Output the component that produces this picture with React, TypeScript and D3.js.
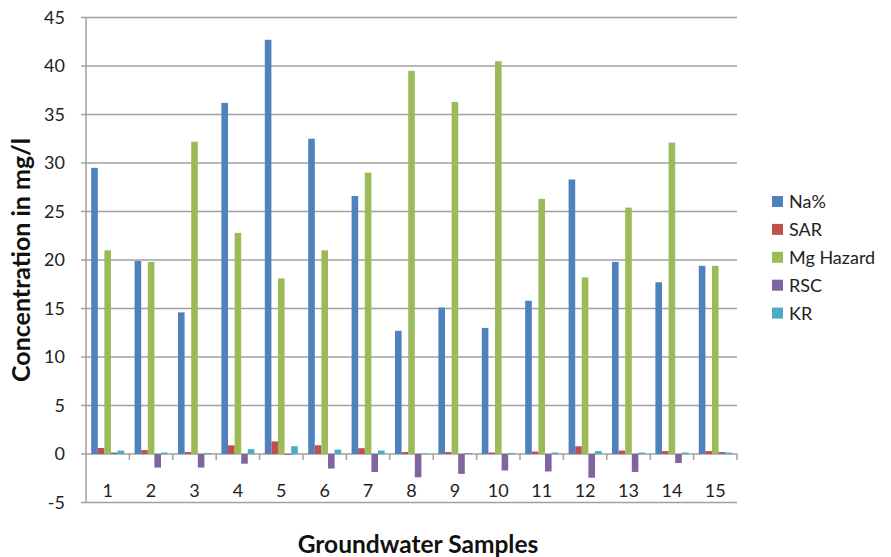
import React from "react";
import * as d3 from "d3";

const samples = ["1","2","3","4","5","6","7","8","9","10","11","12","13","14","15"];
const seriesNames = ["Na%", "SAR", "Mg Hazard", "RSC", "KR"];
const naPct = [29.5, 19.9, 14.6, 36.2, 42.7, 32.5, 26.6, 12.7, 15.1, 13.0, 15.8, 28.3, 19.8, 17.7, 19.4];
const sar = [0.62, 0.4, 0.2, 0.9, 1.3, 0.9, 0.6, 0.2, 0.2, 0.15, 0.25, 0.8, 0.35, 0.3, 0.3];
const mgHazard = [21.0, 19.8, 32.2, 22.8, 18.1, 21.0, 29.0, 39.5, 36.3, 40.5, 26.3, 18.2, 25.4, 32.1, 19.4];
const rsc = [0.15, -1.4, -1.4, -1.0, -0.1, -1.5, -1.85, -2.4, -2.05, -1.7, -1.8, -2.45, -1.85, -0.93, 0.2];
const kr = [0.35, 0.15, 0.1, 0.5, 0.8, 0.45, 0.35, 0.05, 0.1, 0.1, 0.15, 0.3, 0.15, 0.15, 0.15];
const yTicks = [-5, 0, 5, 10, 15, 20, 25, 30, 35, 40, 45];
const colors = ["#4F81BD", "#C0504D", "#9BBB59", "#8064A2", "#4BACC6"];

const seriesValues = [naPct, sar, mgHazard, rsc, kr];

export default function App() {
  const W = 891, H = 557;
  const left = 86, right = 737, top = 17.5, bottom = 502.5;
  const x = d3.scaleBand<string>().domain(samples).range([left, right]).padding(0);
  const bw = x.bandwidth();
  const inner = d3.scaleBand<string>().domain(seriesNames).range([5.2, bw - 5.2]).padding(0);
  const y = d3.scaleLinear().domain([-5, 45]).range([bottom, top]);
  const font = "Lato, 'Open Sans', sans-serif";
  const grid = "#a0a0a0";

  return (
    <svg width={W} height={H} style={{ position: "absolute", left: 0, top: 0, background: "#fff" }} fontFamily={font}>
      {yTicks.map((t) => (
        <g key={t}>
          <line x1={left - 5} x2={right} y1={y(t)} y2={y(t)} stroke={grid} strokeWidth={1.5} />
          <text x={65} y={y(t)} dy="0.36em" textAnchor="end" fontSize={18} fill="#222">{t}</text>
        </g>
      ))}
      <line x1={left} x2={left} y1={top} y2={bottom} stroke={grid} strokeWidth={1.5} />
      {samples.map((s, i) => (
        <g key={s}>
          {i > 0 && (
            <line x1={x(s)!} x2={x(s)!} y1={y(0)} y2={y(0) + 6} stroke={grid} strokeWidth={1.5} />
          )}
          <text x={x(s)! + bw / 2} y={496.5} textAnchor="middle" fontSize={18} fill="#222">{s}</text>
        </g>
      ))}
      <line x1={right} x2={right} y1={y(0)} y2={y(0) + 6} stroke={grid} strokeWidth={1.5} />
      {seriesValues.map((vals, si) => (
        <g key={seriesNames[si]} fill={colors[si]}>
          {vals.map((v, i) => {
            const x0 = x(samples[i])! + inner(seriesNames[si])!;
            const y0 = y(Math.max(0, v));
            const h = Math.abs(y(v) - y(0));
            return <rect key={i} x={x0} y={y0} width={inner.bandwidth()} height={h} />;
          })}
        </g>
      ))}
      <text
        transform={`translate(30, ${(top + bottom) / 2}) rotate(-90)`}
        textAnchor="middle"
        fontSize={25}
        fontWeight="bold"
        fill="#111"
      >
        Concentration in mg/l
      </text>
      <text x={418} y={553} textAnchor="middle" fontSize={24.5} fontWeight="bold" fill="#111">
        Groundwater Samples
      </text>
      {seriesNames.map((n, i) => (
        <g key={n} transform={`translate(772, ${201.5 + i * 27.9})`}>
          <rect x={0} y={-5.5} width={11} height={11} fill={colors[i]} />
          <text x={17} y={0} dy="0.36em" fontSize={18} fill="#222">{n}</text>
        </g>
      ))}
    </svg>
  );
}
